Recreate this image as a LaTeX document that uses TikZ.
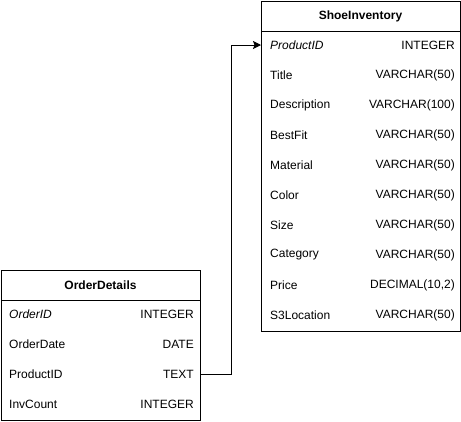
\documentclass[tikz,border=0pt]{standalone}
\usepackage{fontspec}
\setmainfont{Liberation Sans}
\usetikzlibrary{arrows.meta}
\tikzset{
  tbl/.style={draw=black, line width=1pt, fill=white, inner sep=0pt, outer sep=0pt},
  hdr/.style={font=\fontsize{12}{14}\selectfont\bfseries, inner sep=0pt},
  rowbox/.style={inner sep=0pt, outer sep=0pt, minimum height=30pt},
  fname/.style={font=\fontsize{12}{14}\selectfont, anchor=west, inner sep=0pt},
  ftype/.style={font=\fontsize{12}{14}\selectfont, anchor=east, inner sep=0pt},
  link/.style={draw=black, line width=1pt, -{Stealth[length=8pt,width=8pt,inset=1.5pt]}}
}
\begin{document}
\begin{tikzpicture}[x=1pt,y=-1pt]
\useasboundingbox (0,0) rectangle (461,421);
% ShoeInventory
\node[tbl, minimum width=199pt, minimum height=330pt] (shoe) at (360.5,166) {};
\draw[line width=1pt] (261,31) -- (460,31);
\node[hdr] (shoeh) at (360.5,16) {ShoeInventory};
\foreach \i/\n/\t/\s in {1/ProductID/INTEGER/\itshape, 2/Title/{VARCHAR(50)}/, 3/Description/{VARCHAR(100)}/, 4/BestFit/{VARCHAR(50)}/, 5/Material/{VARCHAR(50)}/, 6/Color/{VARCHAR(50)}/, 7/Size/{VARCHAR(50)}/, 8/Category/{VARCHAR(50)}/, 9/Price/{DECIMAL(10,2)}/, 10/S3Location/{VARCHAR(50)}/} {
  \node[rowbox, minimum width=199pt] (sr\i) at (360.5,{15+30*\i}) {};
  \node[fname] (srn\i) at (270,{15+30*\i}) {\s\n};
  \node[ftype] (srt\i) at (455,{15+30*\i}) {\t};
}
% OrderDetails
\node[tbl, minimum width=199pt, minimum height=150pt] (od) at (100.5,345) {};
\draw[line width=1pt] (1,300) -- (200,300);
\node[hdr] (odh) at (100.5,285) {OrderDetails};
\foreach \i/\n/\t/\s in {1/OrderID/INTEGER/\itshape, 2/OrderDate/DATE/, 3/ProductID/TEXT/, 4/InvCount/INTEGER/} {
  \node[rowbox, minimum width=199pt] (or\i) at (100.5,{284+30*\i}) {};
  \node[fname] (orn\i) at (9,{284+30*\i}) {\s\n};
  \node[ftype] (ort\i) at (194,{284+30*\i}) {\t};
}
% connector
\draw[link] (or3.east) -- ++(31,0) |- (sr1.west);
\end{tikzpicture}
\end{document}
